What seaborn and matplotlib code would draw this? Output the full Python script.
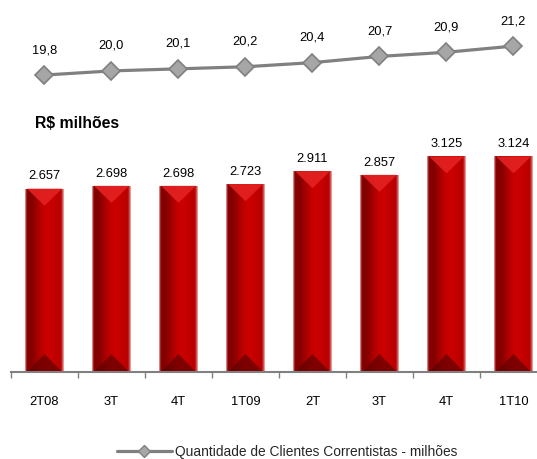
import numpy as np
import pandas as pd
import seaborn as sns
import matplotlib.pyplot as plt
from matplotlib.patches import Polygon
from matplotlib.lines import Line2D
from matplotlib.colors import LinearSegmentedColormap

################################################################################

quarters = ['2T08', '3T', '4T', '1T09', '2T', '3T ', '4T ', '1T10']
quarter_labels = ['2T08', '3T', '4T', '1T09', '2T', '3T', '4T', '1T10']
receitas = [2657, 2698, 2698, 2723, 2911, 2857, 3125, 3124]
receitas_txt = ['2.657', '2.698', '2.698', '2.723', '2.911', '2.857', '3.125', '3.124']
clientes = [19.8, 20.0, 20.1, 20.2, 20.4, 20.7, 20.9, 21.2]
clientes_txt = ['19,8', '20,0', '20,1', '20,2', '20,4', '20,7', '20,9', '21,2']
legenda = 'Quantidade de Clientes Correntistas - milhões'

################################################################################

sns.set_style('white')
plt.rcParams['font.family'] = ['Liberation Sans', 'DejaVu Sans']
fs = 9.3

fig = plt.figure(figsize=(5.37, 4.59), dpi=100)
W, H = 537.0, 459.0

# bar axes
ax = fig.add_axes([11/W, (H-372)/H, 536/W, 241.5/H])
df = pd.DataFrame({'q': quarters, 'v': receitas})
sns.barplot(data=df, x='q', y='v', color='#C00000', width=0.57,
            saturation=1, ax=ax, zorder=2)
ax.set_xlim(-0.5, 7.5)
ax.set_ylim(0, 3500)
ax.set_xlabel('')
ax.set_ylabel('')
ax.set_yticks([])
ax.set_xticks(range(len(quarters)))
ax.set_xticklabels(quarter_labels, fontsize=fs, color='black')
ax.set_xticks(np.arange(-0.5, len(quarters), 1), minor=True)
ax.tick_params(axis='x', which='major', length=0, pad=17)
ax.tick_params(axis='x', which='minor', length=4, color='#808080', width=1, bottom=True)
for s in ['top', 'left', 'right']:
    ax.spines[s].set_visible(False)
ax.spines['bottom'].set_color('#808080')
ax.spines['bottom'].set_linewidth(1.5)
ax.spines['bottom'].set_zorder(5)

# shading of each bar
fig.canvas.draw()
grad = LinearSegmentedColormap.from_list('g', [
    (0.00, '#E0A0A0'), (0.04, '#8A0000'), (0.15, '#800000'), (0.45, '#C00000'),
    (0.60, '#CC0000'), (0.92, '#B80000'), (0.96, '#C83030'), (1.00, '#E8B0B0')])
inv = ax.transData.inverted()
for p in ax.patches:
    x0, y0 = p.get_x(), p.get_y()
    w, h = p.get_width(), p.get_height()
    p.set_edgecolor('none')
    im = ax.imshow(np.linspace(0, 1, 80).reshape(1, -1), cmap=grad, aspect='auto',
                   extent=[x0, x0 + w, y0, y0 + h], zorder=3)
    im.set_clip_path(p)
    # depth of the pyramids, pixels -> data units
    px0 = ax.transData.transform((x0, y0))
    d_top = inv.transform((px0[0], px0[1] + 17))[1] - y0
    d_bot = inv.transform((px0[0], px0[1] + 18))[1] - y0
    xc = x0 + w / 2
    ax.add_patch(Polygon([(x0 + w*0.04, y0 + h), (x0 + w*0.96, y0 + h), (xc, y0 + h - d_top)],
                         closed=True, facecolor='#E42222', edgecolor='none', alpha=0.9, zorder=4))
    ax.add_patch(Polygon([(x0 + w*0.04, y0), (x0 + w*0.96, y0), (xc, y0 + d_bot)],
                         closed=True, facecolor='#600000', edgecolor='none', alpha=0.7, zorder=4))
ax.set_xlim(-0.5, 7.5)
ax.set_ylim(0, 3500)

for i, t in enumerate(receitas_txt):
    ax.annotate(t, (i, receitas[i]), xytext=(0, 4.5), textcoords='offset points',
                ha='center', va='bottom', fontsize=fs, color='black', zorder=6)

fig.text(35/W, (H-124)/H, 'R$ milhões', fontsize=11.3, fontweight='bold',
         ha='left', va='center', color='black')

# line axes
ax2 = fig.add_axes([11/W, (H-91.6)/H, 536/W, 62.1/H])
sns.lineplot(x=np.arange(len(quarters)), y=clientes, ax=ax2,
             color='#808080', linewidth=2.3, marker='D', markersize=9.5,
             markerfacecolor='#A6A6A6', markeredgecolor='#808080', markeredgewidth=1.2,
             legend=False)
ax2.set_xlim(-0.5, 7.5)
ax2.set_ylim(19.0, 22.0)
ax2.axis('off')
for i, t in enumerate(clientes_txt):
    ax2.annotate(t, (i, clientes[i]), xytext=(0, 18), textcoords='offset points',
                 ha='center', va='center', fontsize=fs, color='black')

handle = Line2D([], [], color='#808080', linewidth=2.3, marker='D', markersize=6,
                markerfacecolor='#A6A6A6', markeredgecolor='#808080', markeredgewidth=1)
fig.legend([handle], [legenda], loc='center', bbox_to_anchor=(0.535, 0.016), frameon=False,
           fontsize=9.9, handlelength=4.0, handletextpad=0.25)

fig.savefig('out.png', dpi=100)
